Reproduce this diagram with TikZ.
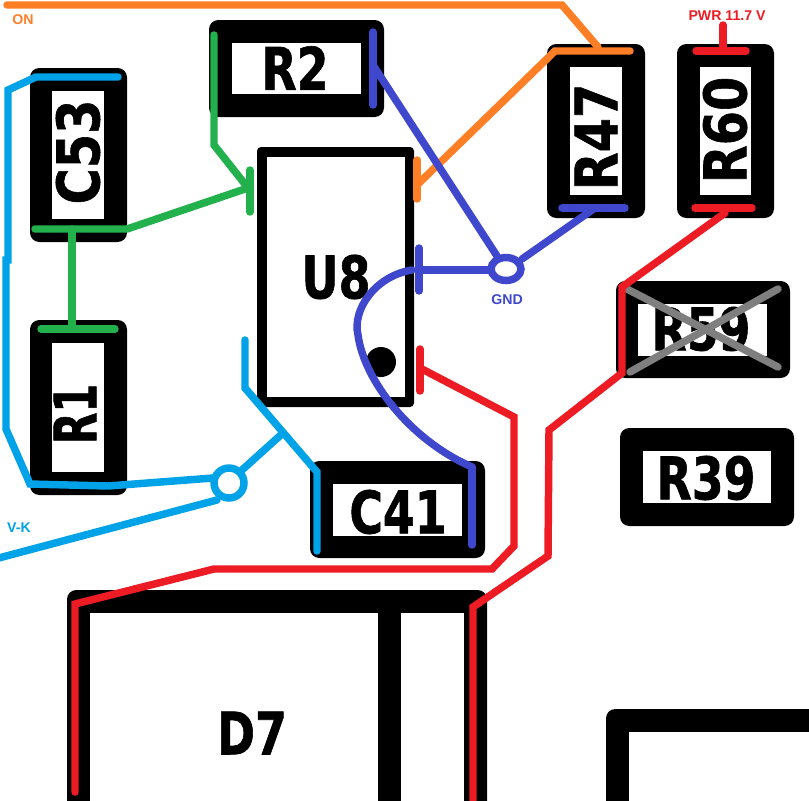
\documentclass[tikz,border=0pt]{standalone}
\usepackage{fontspec}
\setmainfont{Liberation Sans}
\newfontfamily\silkfont[BoldFeatures={FakeBold=1.2}]{DejaVu Sans}
\begin{document}
\begin{tikzpicture}[x=0.75pt, y=-0.75pt,
padfill/.style={fill=black, rounded corners=7pt},
padhole/.style={fill=white},
silkbase/.style={font=\silkfont\fontsize{44}{46}\selectfont\bfseries, text=black, inner sep=0pt},
silk/.style={silkbase, xscale=0.78},
silkv/.style={silkbase, rotate=90, xscale=0.84},
trace/.style={line width=5.6pt, line join=miter, line cap=round},
tagtext/.style={font=\fontsize{10.6}{12}\selectfont\bfseries, inner sep=0pt},
netorange/.style={trace, draw={rgb,255:red,255;green,127;blue,39}},
netgreen/.style={trace, draw={rgb,255:red,34;green,177;blue,76}},
netblue/.style={trace, draw={rgb,255:red,63;green,72;blue,204}},
netred/.style={trace, draw={rgb,255:red,237;green,28;blue,36}},
netcyan/.style={trace, draw={rgb,255:red,0;green,162;blue,232}},
netgrey/.style={trace, draw={rgb,255:red,127;green,127;blue,127}}]

\clip (0,0) rectangle (809,800);
\fill[white] (0,0) rectangle (809,800);

% component outlines
\fill[padfill] (30,68) rectangle (127,242);
\fill[padhole] (52,91) rectangle (104,219);
\fill[padfill] (30,320) rectangle (127,495);
\fill[padhole] (52,343) rectangle (104,472);
\fill[padfill] (209,20) rectangle (384,117);
\fill[padhole] (232,43) rectangle (361,94);
\fill[padfill] (547,44) rectangle (645,218);
\fill[padhole] (570,67) rectangle (622,195);
\fill[padfill] (677,44) rectangle (774,218);
\fill[padhole] (700,67) rectangle (751,195);
\fill[padfill] (616,281) rectangle (790,378);
\fill[padhole] (638,304) rectangle (767,356);
\fill[padfill] (620,428) rectangle (794,526);
\fill[padhole] (643,451) rectangle (771,503);
\fill[padfill] (310,461) rectangle (485,558);
\fill[padhole] (333,484) rectangle (462,536);
\fill[padfill, rounded corners=3pt] (257,147) rectangle (414,407);
\fill[padhole] (267,157) rectangle (405,397);
\fill[padfill] (67,590) rectangle (487,830);
\fill[padhole] (90,613) rectangle (378,830);
\fill[padhole] (401,613) rectangle (464,830);
\fill[padfill] (606,709) rectangle (850,850);
\fill[padhole] (629,732) rectangle (850,850);
\fill (381,362) circle (15);

% reference designators
\node[silkv] (c53) at (78,152) {C53};
\node[silkbase, rotate=90, xscale=0.7] (r1) at (75,414) {R1};
\node[silk] (r2) at (295,68) {R2};
\node[silkv] (r47) at (596,137) {R47};
\node[silkv] (r60) at (725,130) {R60};
\node[silk] (r59) at (701,329) {R59};
\node[silk] (r39) at (706,478) {R39};
\node[silk] (u8) at (336,277) {U8};
\node[silk] (c41) at (398,512) {C41};
\node[silk] (d7) at (252,733) {D7};

% crossed out part
\draw[netgrey] (627,289) -- (778,367);
\draw[netgrey] (778,289) -- (630,372);

% ON
\draw[netorange] (7,5) -- (562,5) -- (598,47);
\draw[netorange] (630,51) -- (555,51) -- (418,184);
\draw[netorange] (417,160) -- (417,199);
\node[tagtext, text={rgb,255:red,255;green,127;blue,39}] (on) at (23,20) {ON};

% green net
\draw[netgreen] (214,35) -- (214,145) -- (248,188);
\draw[netgreen] (250,170) -- (250,212);
\draw[netgreen] (35,229) -- (127,229) -- (248,188);
\draw[netgreen] (72,229) -- (72,329);
\draw[netgreen] (41,329) -- (115,329);

% GND
\draw[netblue] (373,32) -- (373,105);
\draw[netblue] (373,65) -- (497,256);
\draw[netblue] (419,248) -- (419,291);
\draw[netblue] (419,270) -- (488,270);
\draw[netblue] (522,259) -- (595,208);
\draw[netblue] (562,208) -- (625,208);
\draw[netblue] (412,270) .. controls (375,276) and (352,310) .. (358,335) .. controls (364,380) and (410,440) .. (472,467);
\draw[netblue] (472,467) -- (472,545);
\draw[netblue] (506,269) ellipse (15 and 11.5);
\node[tagtext, text={rgb,255:red,63;green,72;blue,204}] (gnd) at (507,300) {GND};

% PWR
\draw[netred] (723,25) -- (723,48);
\draw[netred] (696,51) -- (746,51);
\draw[netred] (695,208) -- (752,208);
\draw[netred] (725,213) -- (622,287) -- (622,373) -- (549,430) -- (548,556) -- (473,607) -- (473,800);
\draw[netred] (420,349) -- (420,391);
\draw[netred] (420,368) -- (514,417) -- (514,546) -- (492,569) -- (214,569) -- (75,604) -- (75,792);
\node[tagtext, text={rgb,255:red,237;green,28;blue,36}] (pwr) at (727,16) {PWR 11.7 V};

% V-K
\draw[netcyan] (118,77) -- (36,77) -- (8,90) -- (8,260) -- (6,260) -- (6,429) -- (30,484) -- (108,486) -- (213,478);
\draw[netcyan] (-5,559) -- (217,500);
\draw[netcyan] (242,470) -- (283,433);
\draw[netcyan] (245,340) -- (245,388) -- (317,472) -- (317,551);
\draw[netcyan] (229,483) circle (15);
\node[tagtext, text={rgb,255:red,0;green,162;blue,232}] (vk) at (19,528) {V-K};

\end{tikzpicture}
\end{document}
